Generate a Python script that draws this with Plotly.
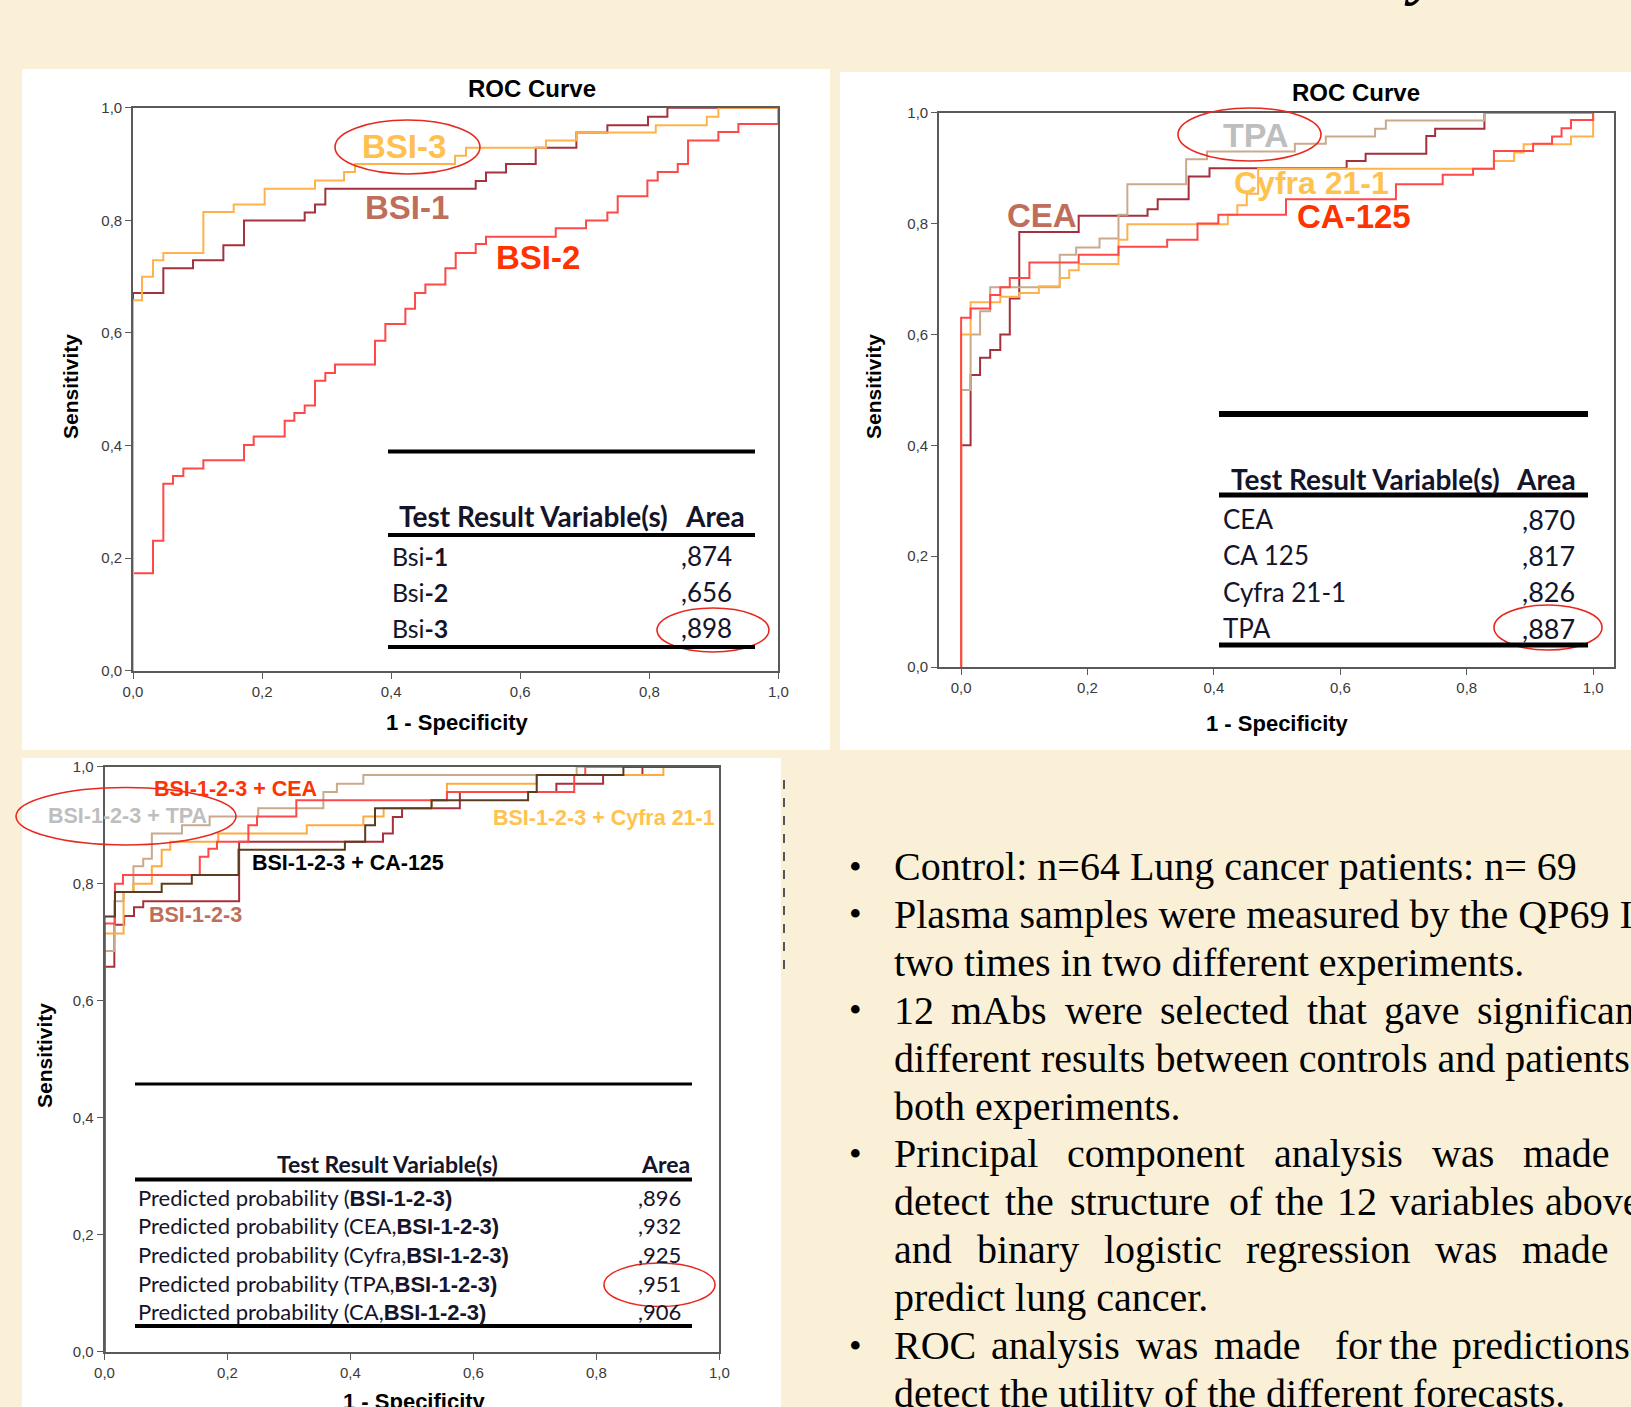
import plotly.graph_objects as go

W, H = 1631, 1407
BG = "#FAF0D8"

# ---------------- data: panel 1 (BSI single markers) ----------------
p1_bsi1_fpr = [0, 0, 0.047, 0.093, 0.140, 0.172, 0.266, 0.282, 0.298, 0.531, 0.547, 0.578, 0.624, 0.687, 0.735, 0.798, 0.828, 1.0]
p1_bsi1_tpr = [0, 0.671, 0.715, 0.729, 0.756, 0.800, 0.814, 0.828, 0.856, 0.870, 0.885, 0.900, 0.929, 0.956, 0.969, 0.984, 1.0, 1.0]
p1_bsi3_fpr = [0, 0, 0.014, 0.031, 0.047, 0.109, 0.156, 0.204, 0.282, 0.327, 0.344, 0.499, 0.516, 0.640, 0.687, 0.810, 0.889, 0.907, 1.0]
p1_bsi3_tpr = [0, 0.658, 0.700, 0.729, 0.742, 0.815, 0.828, 0.856, 0.871, 0.886, 0.900, 0.915, 0.929, 0.942, 0.956, 0.969, 0.984, 1.0, 1.0]
p1_bsi2_fpr = [0, 0, 0.031, 0.047, 0.062, 0.078, 0.109, 0.172, 0.187, 0.235, 0.250, 0.266, 0.282, 0.298, 0.313, 0.375, 0.391, 0.422,
               0.437, 0.453, 0.484, 0.500, 0.531, 0.547, 0.655, 0.702, 0.735, 0.751, 0.797, 0.813, 0.844, 0.860, 0.907, 0.938, 1.0]
p1_bsi2_tpr = [0, 0.173, 0.231, 0.332, 0.346, 0.359, 0.374, 0.401, 0.416, 0.444, 0.458, 0.471, 0.515, 0.529, 0.544, 0.586, 0.616, 0.643,
               0.671, 0.686, 0.715, 0.742, 0.758, 0.771, 0.786, 0.800, 0.814, 0.843, 0.871, 0.886, 0.900, 0.942, 0.957, 0.971, 1.0]
p1_table_names = ["Bsi", "Bsi", "Bsi"]
p1_table_suffix = ["-1", "-2", "-3"]
p1_table_area = [0.874, 0.656, 0.898]

# ---------------- data: panel 2 (classic markers) ----------------
p2_cea_fpr = [0, 0, 0.015, 0.030, 0.046, 0.062, 0.077, 0.092, 0.186, 0.295, 0.311, 0.360, 0.393, 0.610, 0.640, 0.736, 0.750, 0.828, 1.0]
p2_cea_tpr = [0, 0.40, 0.527, 0.558, 0.572, 0.600, 0.665, 0.785, 0.814, 0.826, 0.844, 0.885, 0.900, 0.913, 0.926, 0.958, 0.971, 1.0, 1.0]
p2_tpa_fpr = [0, 0, 0.015, 0.030, 0.046, 0.156, 0.182, 0.219, 0.249, 0.263, 0.356, 0.389, 0.528, 0.577, 0.655, 0.672, 0.828, 1.0]
p2_tpa_tpr = [0, 0.50, 0.60, 0.642, 0.685, 0.744, 0.757, 0.773, 0.816, 0.871, 0.916, 0.930, 0.944, 0.957, 0.971, 0.986, 1.0, 1.0]
p2_cyfra_fpr = [0, 0, 0.015, 0.062, 0.092, 0.123, 0.156, 0.171, 0.186, 0.249, 0.263, 0.422, 0.437, 0.452, 0.470, 0.843, 0.875, 0.890, 0.965, 1.0]
p2_cyfra_tpr = [0, 0.60, 0.658, 0.668, 0.675, 0.687, 0.702, 0.716, 0.727, 0.771, 0.799, 0.816, 0.833, 0.854, 0.899, 0.913, 0.928, 0.943, 0.957, 1.0]
p2_ca125_fpr = [0, 0, 0.015, 0.046, 0.062, 0.077, 0.108, 0.186, 0.249, 0.326, 0.374, 0.407, 0.514, 0.688, 0.762, 0.810, 0.843, 0.905, 0.935, 0.950, 0.965, 1.0]
p2_ca125_tpr = [0, 0.63, 0.647, 0.671, 0.685, 0.702, 0.730, 0.744, 0.758, 0.771, 0.800, 0.816, 0.844, 0.871, 0.888, 0.899, 0.931, 0.944, 0.957, 0.972, 0.987, 1.0]
p2_table_names = ["CEA", "CA 125", "Cyfra 21-1", "TPA"]
p2_table_area = [0.870, 0.817, 0.826, 0.887]

# ---------------- data: panel 3 (combined predictions) ----------------
p3_b123_fpr = [0, 0, 0.016, 0.032, 0.048, 0.063, 0.219, 0.453, 0.469, 0.484, 0.578, 0.735, 0.811, 0.875, 1.0]
p3_b123_tpr = [0, 0.658, 0.730, 0.745, 0.760, 0.770, 0.872, 0.886, 0.914, 0.929, 0.957, 0.971, 0.986, 1.0, 1.0]
p3_cea_fpr = [0, 0, 0.017, 0.030, 0.155, 0.169, 0.183, 0.234, 0.248, 0.312, 0.557, 0.764, 0.782, 1.0]
p3_cea_tpr = [0, 0.732, 0.800, 0.815, 0.846, 0.860, 0.872, 0.900, 0.915, 0.943, 0.957, 0.986, 1.0, 1.0]
p3_tpa_fpr = [0, 0, 0.016, 0.031, 0.047, 0.063, 0.077, 0.126, 0.171, 0.250, 0.356, 0.378, 0.421, 0.768, 1.0]
p3_tpa_tpr = [0, 0.685, 0.770, 0.786, 0.830, 0.843, 0.886, 0.900, 0.915, 0.929, 0.957, 0.971, 0.986, 1.0, 1.0]
p3_cyfra_fpr = [0, 0, 0.031, 0.047, 0.077, 0.093, 0.107, 0.185, 0.329, 0.421, 0.454, 0.532, 0.557, 0.703, 0.909, 1.0]
p3_cyfra_tpr = [0, 0.715, 0.786, 0.800, 0.830, 0.858, 0.872, 0.886, 0.900, 0.915, 0.929, 0.943, 0.971, 0.986, 1.0, 1.0]
p3_ca125_fpr = [0, 0, 0.017, 0.093, 0.142, 0.218, 0.391, 0.424, 0.440, 0.532, 0.689, 0.703, 0.844, 1.0]
p3_ca125_tpr = [0, 0.744, 0.786, 0.800, 0.815, 0.858, 0.872, 0.900, 0.929, 0.943, 0.957, 0.986, 1.0, 1.0]
p3_table_inner = ["", "CEA,", "Cyfra,", "TPA,", "CA,"]
p3_table_area = [0.896, 0.932, 0.925, 0.951, 0.906]

tick_vals = [0, 0.2, 0.4, 0.6, 0.8, 1.0]

# ---------------- bullet text ----------------
bullet_plain = [
    (0, "Control: n=64 Lung cancer patients: n= 69"),
    (1, "Plasma samples were measured by the QP69 I"),
    (2, "two times in two different experiments."),
    (4, "different results between controls and patients in"),
    (5, "both experiments."),
    (9, "predict lung cancer."),
    (11, "detect the utility of the different forecasts."),
]
bullet_justified = [
    (3, ["12", "mAbs", "were", "selected", "that", "gave", "significantly"],
        [892, 949.5, 1062.5, 1158, 1304.5, 1382, 1475]),
    (6, ["Principal", "component", "analysis", "was", "made", "to"],
        [892, 1064.6, 1272, 1430, 1520.6, 1640]),
    (7, ["detect", "the", "structure", "of", "the", "12", "variables", "above"],
        [892, 1003, 1068, 1227, 1273, 1335, 1388, 1543]),
    (8, ["and", "binary", "logistic", "regression", "was", "made", "to"],
        [892, 974.6, 1101.6, 1244.2, 1433.4, 1520.4, 1636]),
    (10, ["ROC", "analysis", "was", "made", "for", "the", "predictions", "to"],
         [892, 989, 1134, 1212, 1333, 1387, 1450, 1650]),
]
bullet_rows = [0, 1, 3, 6, 10]
line_y0, line_dy = 866.5, 47.9


def X(px):
    return px / W


def Y(py):
    return 1 - py / H


fig = go.Figure()

annotations = []
shapes = []


def ann(text, x, y, size, color="black", family="Liberation Sans", xanchor="center",
        yanchor="middle", angle=0):
    annotations.append(dict(text=text, x=X(x), y=Y(y), xref="paper", yref="paper",
                            showarrow=False, xanchor=xanchor, yanchor=yanchor,
                            textangle=angle, font=dict(size=size, color=color, family=family)))


def hline(x0, x1, y, width, color="black"):
    shapes.append(dict(type="line", xref="paper", yref="paper", x0=X(x0), x1=X(x1),
                       y0=Y(y), y1=Y(y), line=dict(color=color, width=width), layer="above"))


def ellipse(x0, x1, y0, y1):
    shapes.append(dict(type="circle", xref="paper", yref="paper", x0=X(x0), x1=X(x1),
                       y0=Y(y1), y1=Y(y0), line=dict(color="#E8281E", width=1.6), layer="above"))


# white panels
for (x0, x1, y0, y1) in [(22, 830, 69, 750), (840, 1640, 72, 750), (22, 781, 758, 1420)]:
    shapes.append(dict(type="rect", xref="paper", yref="paper", x0=X(x0), x1=X(x1),
                       y0=Y(y1), y1=Y(y0), fillcolor="white", line=dict(width=0), layer="below"))

# dashed artefact line at right of panel 3
shapes.append(dict(type="line", xref="paper", yref="paper", x0=X(784), x1=X(784), y0=Y(780), y1=Y(978),
                   line=dict(color="#555555", width=2, dash="dash"), layer="above"))


def add_curve(fpr, tpr, color, xa, ya, width=2.0):
    fig.add_trace(go.Scatter(x=fpr, y=tpr, mode="lines", line=dict(color=color, width=width, shape="hv"),
                             xaxis=xa, yaxis=ya, showlegend=False, hoverinfo="skip"))


# panel 1 curves
add_curve(p1_bsi2_fpr, p1_bsi2_tpr, "#FF4848", "x", "y")
add_curve(p1_bsi1_fpr, p1_bsi1_tpr, "#A3323E", "x", "y")
add_curve(p1_bsi3_fpr, p1_bsi3_tpr, "#FFB24C", "x", "y")
# panel 2 curves
add_curve(p2_cea_fpr, p2_cea_tpr, "#A5303C", "x2", "y2")
add_curve(p2_tpa_fpr, p2_tpa_tpr, "#C9AA8C", "x2", "y2")
add_curve(p2_cyfra_fpr, p2_cyfra_tpr, "#FFB24C", "x2", "y2")
add_curve(p2_ca125_fpr, p2_ca125_tpr, "#FF4848", "x2", "y2")
# panel 3 curves
add_curve(p3_b123_fpr, p3_b123_tpr, "#A8303C", "x3", "y3")
add_curve(p3_tpa_fpr, p3_tpa_tpr, "#C9AA8C", "x3", "y3")
add_curve(p3_cyfra_fpr, p3_cyfra_tpr, "#FFAA40", "x3", "y3")
add_curve(p3_cea_fpr, p3_cea_tpr, "#FF4848", "x3", "y3")
add_curve(p3_ca125_fpr, p3_ca125_tpr, "#5C3C1E", "x3", "y3")

axis_common = dict(showgrid=False, zeroline=False, showline=True, mirror=True, linecolor="#5a5a5a",
                   linewidth=1.6, ticks="outside", ticklen=6, tickwidth=1.4, tickcolor="#5a5a5a",
                   tickvals=tick_vals, tickformat=".1f", automargin=False,
                   tickfont=dict(size=15, color="#3a3a3a", family="Liberation Sans"))

fig.update_layout(
    width=W, height=H, margin=dict(l=0, r=0, t=0, b=0, pad=0, autoexpand=False),
    paper_bgcolor=BG, plot_bgcolor="white", separators=",.",
    xaxis=dict(domain=[X(133), X(778.4)], range=[0, 1], anchor="y", **axis_common),
    yaxis=dict(domain=[Y(670.7), Y(107.8)], range=[0, 1], anchor="x", **axis_common),
    xaxis2=dict(domain=[X(939), X(1614)], range=[-0.035, 1.033], anchor="y2", **axis_common),
    yaxis2=dict(domain=[Y(667.1), Y(112.7)], range=[0, 1], anchor="x2", **axis_common),
    xaxis3=dict(domain=[X(104.5), X(719.3)], range=[0, 1], anchor="y3", **axis_common),
    yaxis3=dict(domain=[Y(1351.7), Y(766.8)], range=[0, 1], anchor="x3", **axis_common),
)

# titles / axis titles
ann("<b>ROC Curve</b>", 532, 89, 24, family="Liberation Sans")
ann("<b>ROC Curve</b>", 1356, 92, 24, family="Liberation Sans")
for (x, y) in [(71, 387), (874, 387), (44, 1056)]:
    ann("<b>Sensitivity</b>", x, y, 21, angle=-90)
for (x, y) in [(457, 722), (1277, 723), (414, 1401)]:
    ann("<b>1 - Specificity</b>", x, y, 22)

# panel 1 labels
ann("<b>BSI-3</b>", 404, 147, 33, color="#FFC04E")
ann("<b>BSI-1</b>", 407, 207, 33, color="#BE6E5A")
ann("<b>BSI-2</b>", 538, 258, 33, color="#FF3300")
ellipse(335, 480, 120, 174)
ellipse(657, 769, 608, 652)

# panel 1 table
TBL = "Lato"
TC = "#14142a"
hline(388, 755, 451.5, 4)
ann("<b>Test Result Variable(s)</b>", 397, 516, 28, color=TC, family=TBL, xanchor="left")
ann("<b>Area</b>", 747, 516, 28, color=TC, family=TBL, xanchor="right")
hline(388, 755, 535, 4)
for i, (nm, sf, ar) in enumerate(zip(p1_table_names, p1_table_suffix, p1_table_area)):
    yy = 556.5 + i * 35.9
    ann(nm + "<b>" + sf + "</b>", 390, yy, 25, color=TC, family=TBL, xanchor="left")
    ann(("%.3f" % ar).replace("0.", ","), 734, yy, 26, color=TC, family=TBL, xanchor="right")
hline(388, 755, 647, 4)

# panel 2 labels
ann("<b>TPA</b>", 1255, 135, 34, color="#BEBEBE")
ann("<b>CEA</b>", 1042, 215, 33, color="#BE6E5A")
ann("<b>Cyfra 21-1</b>", 1311, 183, 32, color="#FFC24F")
ann("<b>CA-125</b>", 1354, 217, 33, color="#FF3300")
ellipse(1178, 1321, 108, 161)
ellipse(1494, 1602, 605, 650)

# panel 2 table
hline(1219, 1588, 414, 6)
ann("<b>Test Result Variable(s)</b>", 1229, 478.5, 28, color=TC, family=TBL, xanchor="left")
ann("<b>Area</b>", 1578, 478.5, 28, color=TC, family=TBL, xanchor="right")
hline(1219, 1588, 495, 5)
for i, (nm, ar) in enumerate(zip(p2_table_names, p2_table_area)):
    yy = 519 + i * 36.4
    ann(nm, 1221, yy, 26, color=TC, family=TBL, xanchor="left")
    ann(("%.3f" % ar).replace("0.", ","), 1577, yy, 27, color=TC, family=TBL, xanchor="right")
hline(1219, 1588, 645, 5)

# panel 3 labels
ann("<b>BSI-1-2-3 + CEA</b>", 235, 788.5, 21.5, color="#FF3300")
ann("<b>BSI-1-2-3 + TPA</b>", 46, 815.5, 21.5, color="#BEBEBE", xanchor="left")
ann("<b>BSI-1-2-3 + Cyfra 21-1</b>", 604, 817.5, 21.5, color="#FFC24F")
ann("<b>BSI-1-2-3 + CA-125</b>", 347.5, 863, 21.5, color="black")
ann("<b>BSI-1-2-3</b>", 195.5, 915.5, 21.5, color="#BE6E5A")
ellipse(16, 236, 787.5, 845)
ellipse(604, 715, 1263, 1306.5)

# panel 3 table
hline(135, 692, 1084, 3)
ann("<b>Test Result Variable(s)</b>", 387, 1164, 23, color=TC, family=TBL)
ann("<b>Area</b>", 692, 1164, 23, color=TC, family=TBL, xanchor="right")
hline(135, 692, 1179.6, 4)
for i, (inner, ar) in enumerate(zip(p3_table_inner, p3_table_area)):
    yy = 1197 + i * 28.7
    txt = ("Predicted probability (" + inner +
           "<span style='font-family:Liberation Sans'><b>BSI-1-2-3)</b></span>")
    ann(txt, 136, yy, 22, color=TC, family=TBL, xanchor="left")
    ann(("%.3f" % ar).replace("0.", ","), 683, yy, 22, color=TC, family=TBL, xanchor="right")
hline(135, 692, 1326, 4)

# bullets
SERIF = "Liberation Serif"
for r in bullet_rows:
    ann("•", 847, line_y0 + r * line_dy, 36, family=SERIF, xanchor="left")
for r, txt in bullet_plain:
    ann(txt, 892, line_y0 + r * line_dy, 40, family=SERIF, xanchor="left")
for r, words, xs in bullet_justified:
    for w, xw in zip(words, xs):
        ann(w, xw, line_y0 + r * line_dy, 40, family=SERIF, xanchor="left")

# descender of the slide title at the very top
ann("<b><i>y</i></b>", 1422, 8, 64, family=SERIF, yanchor="bottom")

fig.update_layout(annotations=annotations, shapes=shapes)
fig.write_html("out.html", config={"displayModeBar": False},
               post_script="document.body.style.margin='0';document.body.style.padding='0';"
                           "document.body.style.overflow='hidden';"
                           "document.documentElement.style.overflow='hidden';")
